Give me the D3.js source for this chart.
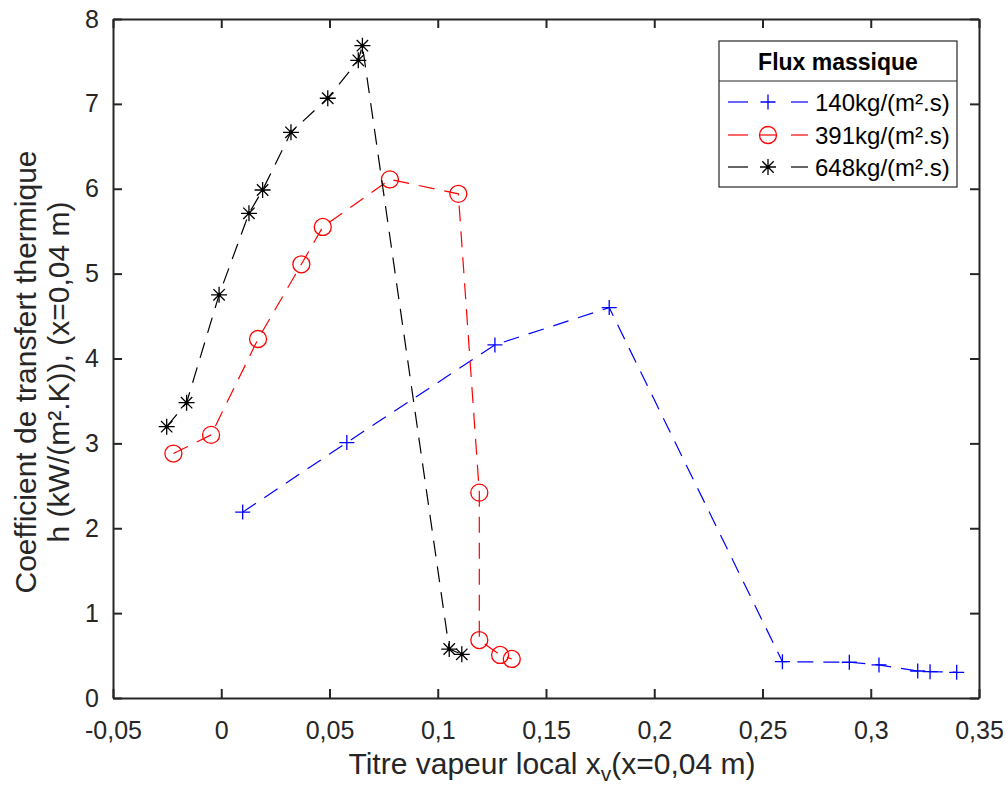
<!DOCTYPE html>
<html>
<head>
<meta charset="utf-8">
<script src="https://cdn.jsdelivr.net/npm/d3@7"></script>
<style>
  html, body { margin: 0; padding: 0; background: #fff; }
  svg { display: block; font-family: "Liberation Sans", Arial, sans-serif; }
</style>
</head>
<body>
<svg id="chart" width="1006" height="785"></svg>
<script>
// ---- data ----
const seriesNames = ["140kg/(m².s)", "391kg/(m².s)", "648kg/(m².s)"];
const seriesColors = ["#0000ff", "#ff0000", "#000000"];
const seriesMarkers = ["plus", "circle", "star"];

const x140 = [0.0099, 0.058, 0.1264, 0.1792, 0.2592, 0.2901, 0.3038, 0.3217, 0.3274, 0.3397];
const y140 = [2.19, 3.01, 4.16, 4.60, 0.428, 0.421, 0.39, 0.318, 0.31, 0.303];

const x391 = [-0.0221, -0.0047, 0.017, 0.037, 0.0469, 0.0779, 0.1095, 0.1192, 0.1192, 0.1288, 0.1342];
const y391 = [2.88, 3.10, 4.23, 5.11, 5.55, 6.11, 5.94, 2.42, 0.683, 0.507, 0.46];

const x648 = [-0.0252, -0.016, -0.001, 0.0128, 0.0191, 0.0322, 0.0492, 0.0633, 0.0652, 0.1053, 0.1111];
const y648 = [3.197, 3.48, 4.75, 5.71, 5.985, 6.665, 7.066, 7.513, 7.686, 0.577, 0.515];

const xTicks = [-0.05, 0, 0.05, 0.1, 0.15, 0.2, 0.25, 0.3, 0.35];
const xTickLabels = ["-0,05", "0", "0,05", "0,1", "0,15", "0,2", "0,25", "0,3", "0,35"];
const yTicks = [0, 1, 2, 3, 4, 5, 6, 7, 8];
const yTickLabels = ["0", "1", "2", "3", "4", "5", "6", "7", "8"];

const legendTitle = "Flux massique";
const xLabelMain = "Titre vapeur local x";
const xLabelSub = "v";
const xLabelEnd = "(x=0,04 m)";
const yLabelLine1 = "Coefficient de transfert thermique";
const yLabelLine2 = "h (kW/(m².K)), (x=0,04 m)";

// ---- layout ----
const svg = d3.select("#chart");
const m = { left: 113, top: 19, right: 979, bottom: 698 };
const axisColor = "#262626";

const x = d3.scaleLinear().domain([-0.05, 0.35]).range([m.left, m.right]);
const y = d3.scaleLinear().domain([0, 8]).range([m.bottom, m.top]);

const g = svg.append("g");

const datasets = [
  { xs: x140, ys: y140 },
  { xs: x391, ys: y391 },
  { xs: x648, ys: y648 }
];

function drawMarker(sel, type, color) {
  if (type === "plus") {
    sel.append("path").attr("d", "M-7.5,0H7.5M0,-7.5V7.5")
      .attr("stroke", color).attr("stroke-width", 1.3).attr("fill", "none");
  } else if (type === "circle") {
    sel.append("circle").attr("r", 8.5)
      .attr("stroke", color).attr("stroke-width", 1.3).attr("fill", "none");
  } else {
    sel.append("path").attr("d", "M-8,0H8M0,-8V8M-5.7,-5.7L5.7,5.7M-5.7,5.7L5.7,-5.7")
      .attr("stroke", color).attr("stroke-width", 1.3).attr("fill", "none");
    sel.append("circle").attr("r", 2).attr("fill", color);
  }
}

const line = d3.line().x(d => x(d[0])).y(d => y(d[1]));

datasets.forEach((ds, i) => {
  const pts = ds.xs.map((v, k) => [v, ds.ys[k]]);
  g.append("path").datum(pts)
    .attr("d", line)
    .attr("fill", "none")
    .attr("stroke", seriesColors[i])
    .attr("stroke-width", 1.2)
    .attr("stroke-dasharray", "16,10");
  g.selectAll(null).data(pts).enter().append("g")
    .attr("transform", d => `translate(${x(d[0])},${y(d[1])})`)
    .each(function() { drawMarker(d3.select(this), seriesMarkers[i], seriesColors[i]); });
});

// axes
const fontTick = 25;
const xAxisB = d3.axisBottom(x).tickValues(xTicks).tickFormat((d, i) => xTickLabels[i]).tickSizeInner(-9).tickSizeOuter(0).tickPadding(23);
const xAxisT = d3.axisTop(x).tickValues(xTicks).tickFormat("").tickSizeInner(-9).tickSizeOuter(0);
const yAxisL = d3.axisLeft(y).tickValues(yTicks).tickFormat((d, i) => yTickLabels[i]).tickSizeInner(-9).tickSizeOuter(0).tickPadding(14);
const yAxisR = d3.axisRight(y).tickValues(yTicks).tickFormat("").tickSizeInner(-9).tickSizeOuter(0);

function styleAxis(a) {
  a.select(".domain").attr("stroke", axisColor).attr("stroke-width", 2);
  a.selectAll(".tick line").attr("stroke", axisColor).attr("stroke-width", 2);
  a.selectAll(".tick text").attr("fill", axisColor).style("font-size", fontTick + "px")
    .style("font-family", '"Liberation Sans", Arial, sans-serif');
}
styleAxis(svg.append("g").attr("transform", `translate(0,${m.bottom})`).call(xAxisB));
styleAxis(svg.append("g").attr("transform", `translate(0,${m.top})`).call(xAxisT));
styleAxis(svg.append("g").attr("transform", `translate(${m.left},0)`).call(yAxisL));
styleAxis(svg.append("g").attr("transform", `translate(${m.right},0)`).call(yAxisR));

// axis labels
const xl = svg.append("text")
  .attr("x", 552).attr("y", 774)
  .attr("text-anchor", "middle")
  .attr("fill", axisColor)
  .style("font-size", "30px");
xl.append("tspan").text(xLabelMain);
xl.append("tspan").attr("dy", 7).style("font-size", "21px").text(xLabelSub);
xl.append("tspan").attr("dy", -7).text(xLabelEnd);

svg.append("text")
  .attr("transform", "translate(36,372) rotate(-90)")
  .attr("text-anchor", "middle")
  .attr("fill", axisColor)
  .style("font-size", "30px")
  .text(yLabelLine1);
svg.append("text")
  .attr("transform", "translate(69,372) rotate(-90)")
  .attr("text-anchor", "middle")
  .attr("fill", axisColor)
  .style("font-size", "30px")
  .text(yLabelLine2);

// legend
const lg = svg.append("g");
const L = { x0: 719, x1: 957, y0: 41, y1: 187, yDiv: 81 };
lg.append("rect").attr("x", L.x0).attr("y", L.y0).attr("width", L.x1 - L.x0).attr("height", L.y1 - L.y0)
  .attr("fill", "#fff").attr("stroke", "#262626").attr("stroke-width", 1.2);
lg.append("line").attr("x1", L.x0).attr("x2", L.x1).attr("y1", L.yDiv).attr("y2", L.yDiv)
  .attr("stroke", "#262626").attr("stroke-width", 1.2);
lg.append("text").attr("x", (L.x0 + L.x1) / 2).attr("y", 70)
  .attr("text-anchor", "middle").attr("fill", "#000")
  .style("font-size", "23px").style("font-weight", "bold")
  .text(legendTitle);

const rowY = [102, 135, 167];
seriesNames.forEach((name, i) => {
  const ry = rowY[i];
  const row = lg.append("g");
  row.append("line").attr("x1", 728).attr("x2", 748).attr("y1", ry).attr("y2", ry)
    .attr("stroke", seriesColors[i]).attr("stroke-width", 1.2);
  row.append("line").attr("x1", 791).attr("x2", 808).attr("y1", ry).attr("y2", ry)
    .attr("stroke", seriesColors[i]).attr("stroke-width", 1.2);
  const mk = row.append("g").attr("transform", `translate(768,${ry})`);
  drawMarker(mk, seriesMarkers[i], seriesColors[i]);
  if (seriesMarkers[i] === "circle") {
    mk.append("line").attr("x1", -8).attr("x2", 8).attr("y1", 0).attr("y2", 0)
      .attr("stroke", seriesColors[i]).attr("stroke-width", 1.2);
  }
  row.append("text").attr("x", 815).attr("y", ry + 8.5)
    .attr("fill", "#000").style("font-size", "24px").text(name);
});
</script>
</body>
</html>
